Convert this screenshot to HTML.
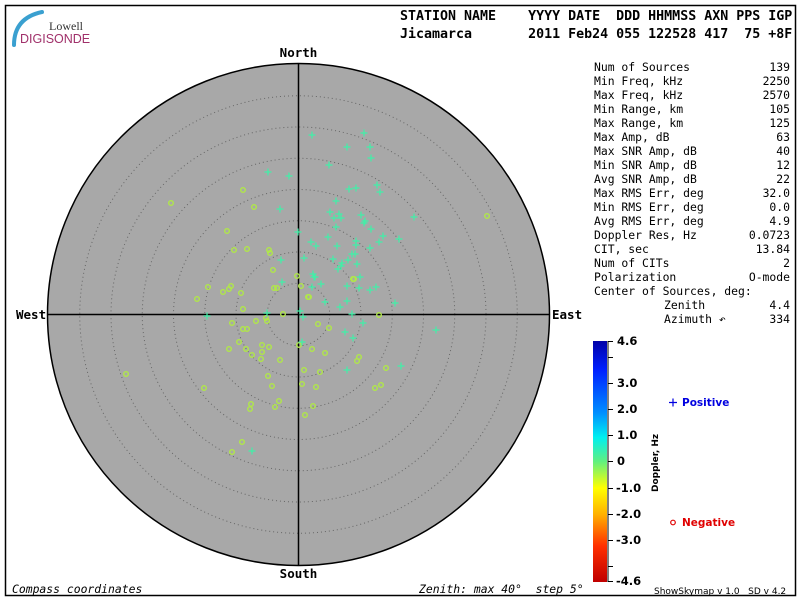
<!DOCTYPE html>
<html><head><meta charset="utf-8"><style>body{margin:0;background:#fff}svg{display:block}text{white-space:pre}</style></head><body>
<svg width="800" height="600" xmlns="http://www.w3.org/2000/svg">
<defs>
<linearGradient id="cb" x1="0" y1="0" x2="0" y2="1">
<stop offset="0" stop-color="#0000a8"/>
<stop offset="0.12" stop-color="#0020ff"/>
<stop offset="0.3" stop-color="#0090ff"/>
<stop offset="0.4" stop-color="#00f0f0"/>
<stop offset="0.5" stop-color="#60f080"/>
<stop offset="0.61" stop-color="#ffff00"/>
<stop offset="0.72" stop-color="#ffb000"/>
<stop offset="0.85" stop-color="#ff3000"/>
<stop offset="1" stop-color="#c00000"/>
</linearGradient>
<g id="p"><path d="M-3.5 0H3.5M0 -3.5V3.5" stroke="#40f0a8" stroke-width="1.2"/></g>
<g id="c"><circle r="2.3" fill="none" stroke="#b0e848" stroke-width="1.4"/></g>
</defs>
<rect x="5.5" y="5.5" width="790" height="590" fill="none" stroke="#000" stroke-width="1.5"/>
<!-- logo -->
<path d="M14 45 Q14 18 42 12" fill="none" stroke="#3aa0d0" stroke-width="4" stroke-linecap="round"/>
<text x="49" y="30" font-family="Liberation Serif,serif" font-size="12" fill="#333">Lowell</text>
<text x="20" y="43" font-family="Liberation Sans,sans-serif" font-size="12.5" fill="#a0306a">DIGISONDE</text>
<!-- header -->
<g font-family="DejaVu Sans Mono,monospace" font-weight="bold" font-size="13.3">
<text x="400" y="20">STATION NAME    YYYY DATE  DDD HHMMSS AXN PPS IGP</text>
<text x="400" y="38">Jicamarca       2011 Feb24 055 122528 417  75 +8F</text>
</g>
<!-- sky -->
<circle cx="298.5" cy="314.5" r="251" fill="#a8a8a8" stroke="#000" stroke-width="1.5"/>
<g fill="none" stroke="#666" stroke-width="1" stroke-dasharray="1 3">
<circle cx="298.5" cy="314.5" r="31.25"/><circle cx="298.5" cy="314.5" r="62.5"/>
<circle cx="298.5" cy="314.5" r="93.75"/><circle cx="298.5" cy="314.5" r="125"/>
<circle cx="298.5" cy="314.5" r="156.25"/><circle cx="298.5" cy="314.5" r="187.5"/>
<circle cx="298.5" cy="314.5" r="218.75"/>
</g>
<path d="M298.5 63V566M47 314.5H550" stroke="#000" stroke-width="1.5"/>
<g font-family="DejaVu Sans Mono,monospace" font-weight="bold" font-size="12.5">
<text x="298.5" y="57" text-anchor="middle">North</text>
<text x="298.5" y="578" text-anchor="middle">South</text>
<text x="16" y="319">West</text>
<text x="552" y="319">East</text>
</g>
<g>
<use href="#c" x="487" y="216"/><use href="#c" x="353" y="279"/><use href="#c" x="308" y="297"/><use href="#c" x="301" y="286"/>
<use href="#c" x="254" y="207"/><use href="#c" x="227" y="231"/><use href="#c" x="234" y="250"/><use href="#c" x="247" y="249"/>
<use href="#c" x="269" y="250"/><use href="#c" x="270" y="253"/><use href="#c" x="223" y="292"/><use href="#c" x="229" y="289"/>
<use href="#c" x="231" y="286"/><use href="#c" x="241" y="293"/><use href="#c" x="243" y="309"/><use href="#c" x="274" y="288"/>
<use href="#c" x="277" y="288"/><use href="#c" x="297" y="276"/><use href="#c" x="309" y="297"/><use href="#c" x="354" y="279"/>
<use href="#c" x="283" y="314"/><use href="#c" x="379" y="315"/><use href="#c" x="232" y="323"/><use href="#c" x="243" y="329"/>
<use href="#c" x="247" y="329"/><use href="#c" x="256" y="321"/><use href="#c" x="266" y="318"/><use href="#c" x="267" y="321"/>
<use href="#c" x="239" y="342"/><use href="#c" x="229" y="349"/><use href="#c" x="246" y="349"/><use href="#c" x="262" y="345"/>
<use href="#c" x="269" y="347"/><use href="#c" x="262" y="352"/><use href="#c" x="252" y="355"/><use href="#c" x="261" y="359"/>
<use href="#c" x="280" y="360"/><use href="#c" x="299" y="345"/><use href="#c" x="312" y="349"/><use href="#c" x="329" y="328"/>
<use href="#c" x="325" y="353"/><use href="#c" x="359" y="357"/><use href="#c" x="357" y="361"/><use href="#c" x="386" y="368"/>
<use href="#c" x="304" y="370"/><use href="#c" x="320" y="372"/><use href="#c" x="268" y="376"/><use href="#c" x="272" y="386"/>
<use href="#c" x="302" y="384"/><use href="#c" x="316" y="387"/><use href="#c" x="375" y="388"/><use href="#c" x="381" y="385"/>
<use href="#c" x="204" y="388"/><use href="#c" x="126" y="374"/><use href="#c" x="251" y="404"/><use href="#c" x="250" y="409"/>
<use href="#c" x="279" y="401"/><use href="#c" x="275" y="407"/><use href="#c" x="305" y="415"/><use href="#c" x="242" y="442"/>
<use href="#c" x="232" y="452"/><use href="#c" x="171" y="203"/><use href="#c" x="243" y="190"/><use href="#c" x="208" y="287"/>
<use href="#c" x="197" y="299"/><use href="#c" x="313" y="406"/><use href="#c" x="318" y="324"/><use href="#c" x="273" y="270"/>
</g>
<g>
<use href="#p" x="312" y="135"/><use href="#p" x="364" y="133"/><use href="#p" x="347" y="147"/><use href="#p" x="370" y="147"/>
<use href="#p" x="371" y="158"/><use href="#p" x="329" y="165"/><use href="#p" x="349" y="189"/><use href="#p" x="356" y="188"/>
<use href="#p" x="377" y="185"/><use href="#p" x="380" y="192"/><use href="#p" x="336" y="201"/><use href="#p" x="330" y="212"/>
<use href="#p" x="339" y="214"/><use href="#p" x="334" y="218"/><use href="#p" x="341" y="218"/><use href="#p" x="361" y="215"/>
<use href="#p" x="414" y="217"/><use href="#p" x="365" y="221"/><use href="#p" x="364" y="223"/><use href="#p" x="336" y="227"/>
<use href="#p" x="371" y="229"/><use href="#p" x="383" y="236"/><use href="#p" x="399" y="239"/><use href="#p" x="328" y="237"/>
<use href="#p" x="311" y="242"/><use href="#p" x="316" y="246"/><use href="#p" x="337" y="246"/><use href="#p" x="356" y="241"/>
<use href="#p" x="356" y="245"/><use href="#p" x="370" y="248"/><use href="#p" x="379" y="242"/><use href="#p" x="304" y="258"/>
<use href="#p" x="333" y="259"/><use href="#p" x="352" y="254"/><use href="#p" x="355" y="254"/><use href="#p" x="348" y="260"/>
<use href="#p" x="342" y="263"/><use href="#p" x="341" y="266"/><use href="#p" x="357" y="264"/><use href="#p" x="338" y="269"/>
<use href="#p" x="313" y="274"/><use href="#p" x="314" y="277"/><use href="#p" x="360" y="277"/><use href="#p" x="321" y="284"/>
<use href="#p" x="312" y="287"/><use href="#p" x="347" y="286"/><use href="#p" x="359" y="288"/><use href="#p" x="370" y="290"/>
<use href="#p" x="376" y="287"/><use href="#p" x="325" y="302"/><use href="#p" x="347" y="301"/><use href="#p" x="340" y="307"/>
<use href="#p" x="395" y="303"/><use href="#p" x="280" y="209"/><use href="#p" x="298" y="232"/><use href="#p" x="281" y="260"/>
<use href="#p" x="282" y="282"/><use href="#p" x="267" y="313"/><use href="#p" x="207" y="316"/><use href="#p" x="300" y="311"/>
<use href="#p" x="303" y="317"/><use href="#p" x="302" y="342"/><use href="#p" x="352" y="314"/><use href="#p" x="363" y="323"/>
<use href="#p" x="345" y="332"/><use href="#p" x="353" y="338"/><use href="#p" x="347" y="370"/><use href="#p" x="315" y="277"/>
<use href="#p" x="436" y="330"/><use href="#p" x="401" y="366"/><use href="#p" x="268" y="172"/><use href="#p" x="289" y="176"/>
<use href="#p" x="252" y="451"/>
</g>
<g font-family="DejaVu Sans Mono,monospace" font-size="11.4">
<text x="594" y="71">Num of Sources</text><text x="790" y="71" text-anchor="end">139</text>
<text x="594" y="85">Min Freq, kHz</text><text x="790" y="85" text-anchor="end">2250</text>
<text x="594" y="99">Max Freq, kHz</text><text x="790" y="99" text-anchor="end">2570</text>
<text x="594" y="113">Min Range, km</text><text x="790" y="113" text-anchor="end">105</text>
<text x="594" y="127">Max Range, km</text><text x="790" y="127" text-anchor="end">125</text>
<text x="594" y="141">Max Amp, dB</text><text x="790" y="141" text-anchor="end">63</text>
<text x="594" y="155">Max SNR Amp, dB</text><text x="790" y="155" text-anchor="end">40</text>
<text x="594" y="169">Min SNR Amp, dB</text><text x="790" y="169" text-anchor="end">12</text>
<text x="594" y="183">Avg SNR Amp, dB</text><text x="790" y="183" text-anchor="end">22</text>
<text x="594" y="197">Max RMS Err, deg</text><text x="790" y="197" text-anchor="end">32.0</text>
<text x="594" y="211">Min RMS Err, deg</text><text x="790" y="211" text-anchor="end">0.0</text>
<text x="594" y="225">Avg RMS Err, deg</text><text x="790" y="225" text-anchor="end">4.9</text>
<text x="594" y="239">Doppler Res, Hz</text><text x="790" y="239" text-anchor="end">0.0723</text>
<text x="594" y="253">CIT, sec</text><text x="790" y="253" text-anchor="end">13.84</text>
<text x="594" y="267">Num of CITs</text><text x="790" y="267" text-anchor="end">2</text>
<text x="594" y="281">Polarization</text><text x="790" y="281" text-anchor="end">O-mode</text>
<text x="594" y="295">Center of Sources, deg:</text>
<text x="664" y="309">Zenith</text><text x="790" y="309" text-anchor="end">4.4</text>
<text x="664" y="323">Azimuth ↶</text><text x="790" y="323" text-anchor="end">334</text>
</g>
<rect x="593" y="341" width="14" height="241" fill="url(#cb)"/>
<g stroke="#000" stroke-width="1"><path d="M608 341V582M608 341.5h5M608 357.5h5M608 383.5h5M608 409.5h5M608 435.5h5M608 461.5h5M608 488.5h5M608 514.5h5M608 540.5h5M608 566.5h5M608 581.5h5"/></g>
<g font-family="DejaVu Sans,sans-serif" font-weight="bold" font-size="11.5">
<text x="617" y="345">4.6</text><text x="617" y="387">3.0</text><text x="617" y="413">2.0</text><text x="617" y="439">1.0</text>
<text x="617" y="465">0</text><text x="616" y="492">-1.0</text><text x="616" y="518">-2.0</text><text x="616" y="544">-3.0</text><text x="616" y="585">-4.6</text>
</g>
<text transform="translate(658,492) rotate(-90)" font-family="DejaVu Sans,sans-serif" font-weight="bold" font-size="9">Doppler, Hz</text>
<g font-family="DejaVu Sans,sans-serif" font-weight="bold" font-size="10.5">
<path d="M669 402.5h8M673 398.5v8" stroke="#0000e0" stroke-width="1.2"/>
<text x="682" y="406" fill="#0000e0">Positive</text>
<circle cx="673" cy="522.5" r="2.3" fill="none" stroke="#e00000" stroke-width="1.2"/>
<text x="682" y="526" fill="#e00000">Negative</text>
</g>
<g font-family="DejaVu Sans Mono,monospace" font-size="11.4" font-style="italic">
<text x="12" y="593">Compass coordinates</text>
<text x="419" y="593">Zenith: max 40°  step 5°</text>
</g>
<text x="654" y="594" font-family="DejaVu Sans,sans-serif" font-size="9">ShowSkymap v 1.0   SD v 4.2</text>
</svg>
</body></html>
